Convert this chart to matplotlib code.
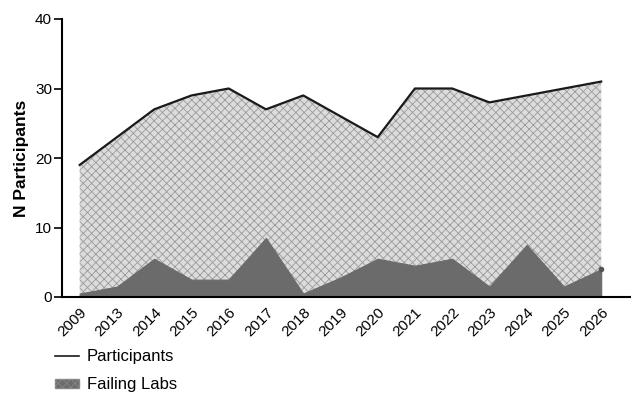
import matplotlib.pyplot as plt
from matplotlib.lines import Line2D
from matplotlib.patches import Patch
import numpy as np

plt.rcParams['font.family'] = ['Liberation Sans', 'DejaVu Sans']
plt.rcParams['hatch.color'] = '#8a8a8a'
plt.rcParams['hatch.linewidth'] = 0.6

years = ["2009", "2013", "2014", "2015", "2016", "2017", "2018", "2019",
         "2020", "2021", "2022", "2023", "2024", "2025", "2026"]
participants = [19, 23, 27, 29, 30, 27, 29, 26, 23, 30, 30, 28, 29, 30, 31]
failing_labs = [0.5, 1.5, 5.5, 2.5, 2.5, 8.5, 0.5, 2.8, 5.5, 4.5, 5.5, 1.5, 7.5, 1.5, 4]

x = np.arange(len(years))

fig = plt.figure(figsize=(6.31, 4.0), dpi=100)
ax = fig.add_axes([0.098, 0.2575, 0.902, 0.695])

# gemusterte Fläche für Teilnehmer
ax.fill_between(x, 0, participants, facecolor='#dcdcdc', hatch='xxxx',
                edgecolor='#9a9a9a', linewidth=0)
ax.plot(x, participants, color='#1a1a1a', linewidth=1.6)

# Fehlerhafte Labore
ax.fill_between(x, 0, failing_labs, facecolor='#6b6b6b', edgecolor='#6b6b6b',
                linewidth=0.8)
ax.plot(x[-1], failing_labs[-1], 'o', color='#555555', markersize=3)

ax.set_xlim(-0.48, 14.8)
ax.set_ylim(0, 40)
ax.set_yticks([0, 10, 20, 30, 40])
ax.set_xticks(x)
ax.set_xticklabels(years, rotation=45, ha='right', rotation_mode='anchor')
ax.tick_params(axis='x', length=0, pad=6, labelsize=11)
ax.tick_params(axis='y', length=6, width=1.2, labelsize=11, pad=1)
ax.spines['top'].set_visible(False)
ax.spines['right'].set_visible(False)
ax.spines['left'].set_linewidth(1.5)
ax.spines['bottom'].set_linewidth(1.5)
ax.set_ylabel("N Participants", fontsize=12.5, fontweight='bold')
ax.yaxis.set_label_coords(-0.058, 0.5)

handles = [Line2D([0], [0], color='#1a1a1a', linewidth=1.2),
           Patch(facecolor='#6b6b6b', edgecolor='#888888', hatch='xxxx')]
fig.legend(handles, ["Participants", "Failing Labs"], loc='upper left',
           bbox_to_anchor=(0.064, 0.165), frameon=False, fontsize=12,
           handlelength=1.4, handleheight=0.4, handletextpad=0.5,
           labelspacing=0.8)

plt.savefig("out.png", dpi=100)
